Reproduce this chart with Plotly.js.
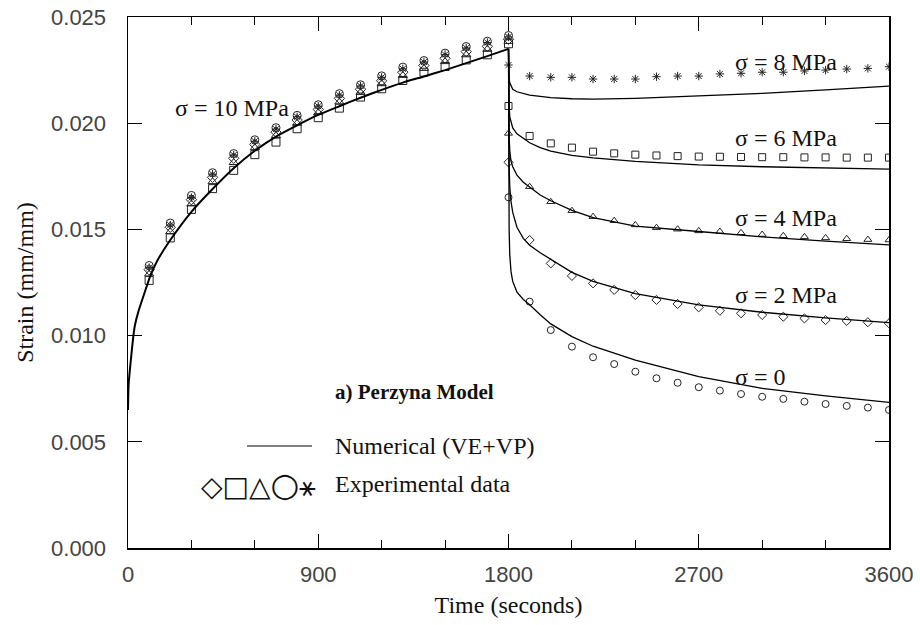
<!DOCTYPE html>
<html>
<head>
<meta charset="utf-8">
<script src="https://cdn.plot.ly/plotly-3.0.1.min.js"></script>
<style>html,body{margin:0;padding:0;background:#fff;}#chart{width:920px;height:625px;}</style>
</head>
<body>
<div id="chart"></div>
<script>
// ---- Experimental data: loading phase (sigma = 10 MPa) ----
const timeLoad = [100,200,300,400,500,600,700,800,900,1000,1100,1200,1300,1400,1500,1600,1700,1800];
const loadCircle   = [0.0133,0.0153,0.0166,0.01767,0.01857,0.01922,0.01979,0.02037,0.02087,0.02139,0.02181,0.02223,0.02264,0.02295,0.0233,0.02361,0.02386,0.02413];
const loadStar     = [0.0132,0.0152,0.0165,0.0176,0.0185,0.01915,0.01972,0.0203,0.0208,0.02132,0.02175,0.02216,0.02256,0.02288,0.02323,0.02354,0.0238,0.02406];
const loadDiamond  = [0.0131,0.0151,0.0164,0.01745,0.01835,0.019,0.01958,0.02015,0.02065,0.02117,0.0216,0.022,0.0224,0.02272,0.02306,0.02337,0.02362,0.02395];
const loadTriangle = [0.0129,0.0149,0.0162,0.01725,0.01815,0.01885,0.01942,0.02,0.0205,0.021,0.02145,0.02186,0.02225,0.02258,0.0229,0.02322,0.02348,0.02385];
const loadSquare   = [0.0126,0.0146,0.01594,0.01692,0.01778,0.01852,0.01911,0.01974,0.02026,0.02071,0.02123,0.02162,0.02201,0.0224,0.02267,0.02298,0.02322,0.02374];

// ---- Experimental data: recovery phase ----
const timeUnload = [1800,1900,2000,2100,2200,2300,2400,2500,2600,2700,2800,2900,3000,3100,3200,3300,3400,3500,3600];
const unloadStar     = [0.02274,0.02222,0.02216,0.02216,0.02208,0.02208,0.02208,0.02219,0.02222,0.02222,0.02232,0.02235,0.0224,0.0224,0.02246,0.0225,0.02255,0.02258,0.02266];
const unloadSquare   = [0.02081,0.0194,0.01905,0.01885,0.01866,0.01858,0.01852,0.01848,0.01845,0.01843,0.01842,0.01841,0.0184,0.0184,0.01839,0.01839,0.01838,0.01838,0.01838];
const unloadTriangle = [0.01952,0.01701,0.0163,0.01588,0.0156,0.01541,0.01521,0.01508,0.01501,0.01493,0.0149,0.01484,0.01476,0.0147,0.01465,0.0146,0.01456,0.01452,0.0145];
const unloadDiamond  = [0.01816,0.0145,0.0134,0.01281,0.01246,0.01215,0.01191,0.01168,0.01149,0.01133,0.01117,0.01105,0.01097,0.01089,0.01081,0.01073,0.01069,0.01063,0.01058];
const unloadCircle   = [0.01651,0.0116,0.01026,0.00948,0.00898,0.00866,0.0083,0.00799,0.00778,0.00757,0.00741,0.00725,0.00712,0.00702,0.00689,0.00678,0.00669,0.00661,0.0065];

// ---- Numerical model (VE+VP) ----
const modelLoadTime   = [0,3,10,17,25,33,49,72,104,136,200,300,400,500,600,700,800,900,1000,1100,1200,1300,1400,1500,1600,1700,1800];
const modelLoadStrain = [0.0065,0.0077,0.0085,0.0092,0.00995,0.0105,0.01113,0.01183,0.01277,0.01348,0.0145,0.01583,0.0169,0.01788,0.0187,0.01937,0.0199,0.02039,0.0208,0.0212,0.02157,0.02191,0.0222,0.0225,0.02283,0.02316,0.0235];
const modelUnloadTime = [1800,1801,1803,1806,1812,1820,1840,1870,1900,1950,2000,2100,2200,2400,2700,3000,3300,3600];
const model8 = [0.0235,0.0226,0.0221,0.0219,0.02175,0.0216,0.02148,0.0214,0.02132,0.02126,0.0212,0.02115,0.02113,0.02117,0.02127,0.0214,0.02157,0.02175];
const model6 = [0.0235,0.0218,0.0208,0.0203,0.02,0.01978,0.0195,0.01928,0.01908,0.01885,0.01868,0.01848,0.01837,0.0182,0.01804,0.01795,0.01788,0.01784];
const model4 = [0.0235,0.021,0.0194,0.0187,0.0182,0.01795,0.01755,0.01722,0.01698,0.01662,0.01635,0.0159,0.01555,0.01515,0.0149,0.01465,0.01445,0.01427];
const model2 = [0.0235,0.02,0.018,0.017,0.0163,0.0158,0.0151,0.01458,0.01425,0.0139,0.01358,0.01298,0.01255,0.01198,0.01145,0.0111,0.01083,0.01061];
const model0 = [0.0235,0.018,0.015,0.0138,0.013,0.01255,0.01205,0.0117,0.01145,0.01098,0.01055,0.00995,0.0095,0.00885,0.00807,0.00752,0.00716,0.00686];

// ---- Tick labels ----
const xTickVals = [0,900,1800,2700,3600];
const xTickText = ['0','900','1800','2700','3600'];
const xMinorVals = [300,600,1200,1500,2100,2400,3000,3300];
const yTickVals = [0,0.005,0.01,0.015,0.02,0.025];
const yTickText = ['0.000','0.005','0.010','0.015','0.020','0.025'];

const serif = 'Liberation Serif, Times New Roman, serif';
const sans = 'Liberation Sans, Arial, sans-serif';
const mk = (sym, sz) => ({symbol: sym, size: sz, color: '#222', line: {color: '#222', width: 1}});

const traces = [];
function addMarkers(x, y, sym, sz) {
  traces.push({x: x, y: y, type: 'scatter', mode: 'markers', marker: mk(sym, sz), showlegend: false, hoverinfo: 'skip'});
}
addMarkers(timeLoad, loadSquare, 'square-open', 8);
addMarkers(timeLoad, loadTriangle, 'triangle-up-open', 8);
addMarkers(timeLoad, loadDiamond, 'diamond-open', 8);
addMarkers(timeLoad, loadCircle, 'circle-open', 8);
addMarkers(timeLoad, loadStar, 'asterisk-open', 7);
addMarkers(timeUnload, unloadStar, 'asterisk-open', 7);
addMarkers(timeUnload, unloadSquare, 'square-open', 7);
addMarkers(timeUnload, unloadTriangle, 'triangle-up-open', 7);
addMarkers(timeUnload, unloadDiamond, 'diamond-open', 7);
addMarkers(timeUnload, unloadCircle, 'circle-open', 7);

traces.push({x: modelLoadTime, y: modelLoadStrain, type: 'scatter', mode: 'lines', line: {color: '#000', width: 2, shape: 'spline', smoothing: 0.5}, showlegend: false, hoverinfo: 'skip'});
[model8, model6, model4, model2, model0].forEach(m => {
  traces.push({x: modelUnloadTime, y: m, type: 'scatter', mode: 'lines', line: {color: '#000', width: 1.3}, showlegend: false, hoverinfo: 'skip'});
});

const annFont = {family: serif, size: 24, color: '#111'};
function ann(text, x, y, extra) {
  return Object.assign({text: text, x: x, y: y, xref: 'x', yref: 'y', xanchor: 'left', yanchor: 'middle', showarrow: false, font: annFont}, extra || {});
}

const layout = {
  width: 920, height: 625,
  margin: {l: 128, r: 31, t: 17, b: 77},
  paper_bgcolor: '#fff', plot_bgcolor: '#fff',
  showlegend: false,
  xaxis: {
    range: [0, 3600], tickmode: 'array', tickvals: xTickVals, ticktext: xTickText,
    ticks: 'inside', ticklen: 14, tickwidth: 1, tickcolor: '#000',
    minor: {tickmode: 'array', tickvals: xMinorVals, ticks: 'inside', ticklen: 8, tickwidth: 1, tickcolor: '#000', showgrid: false},
    showline: true, linecolor: '#000', linewidth: 1.5, mirror: 'ticks',
    showgrid: false, zeroline: false,
    tickfont: {family: sans, size: 22, color: '#444'}, ticklabelstandoff: 6,
    title: {text: 'Time (seconds)', font: {family: serif, size: 24, color: '#111'}, standoff: 10}
  },
  yaxis: {
    range: [0, 0.025], tickmode: 'array', tickvals: yTickVals, ticktext: yTickText,
    ticks: 'inside', ticklen: 14, tickwidth: 1, tickcolor: '#000',
    showline: true, linecolor: '#000', linewidth: 1.5, mirror: 'ticks',
    showgrid: false, zeroline: false,
    tickfont: {family: sans, size: 22, color: '#444'}, ticklabelstandoff: 16,
    title: {text: 'Strain (mm/mm)', font: {family: serif, size: 24, color: '#111'}, standoff: 10}
  },
  shapes: [
    {type: 'line', xref: 'paper', yref: 'paper', x0: (247-128)/761, x1: (312-128)/761, y0: (548-446)/531, y1: (548-446)/531, line: {color: '#000', width: 1.2}}
  ],
  annotations: [
    ann('σ = 10 MPa', 215, 0.0207),
    ann('σ = 8 MPa', 2862, 0.0229),
    ann('σ = 6 MPa', 2862, 0.0193),
    ann('σ = 4 MPa', 2862, 0.01552),
    ann('σ = 2 MPa', 2862, 0.01191),
    ann('σ = 0', 2862, 0.00804),
    ann('<b>a) Perzyna Model</b>', 968, 0.00736, {font: {family: serif, size: 21, color: '#111'}}),
    ann('Numerical (VE+VP)', 971, (548-446)/21240),
    ann('◇□△<span style="font-size:33px">○</span>⚹', 900, (548-484)/21240, {xanchor: 'right', font: {family: 'DejaVu Sans, sans-serif', size: 28, color: '#111'}}),
    ann('Experimental data', 971, (548-484)/21240)
  ]
};

Plotly.newPlot('chart', traces, layout, {staticPlot: true, displayModeBar: false});
</script>
</body>
</html>
